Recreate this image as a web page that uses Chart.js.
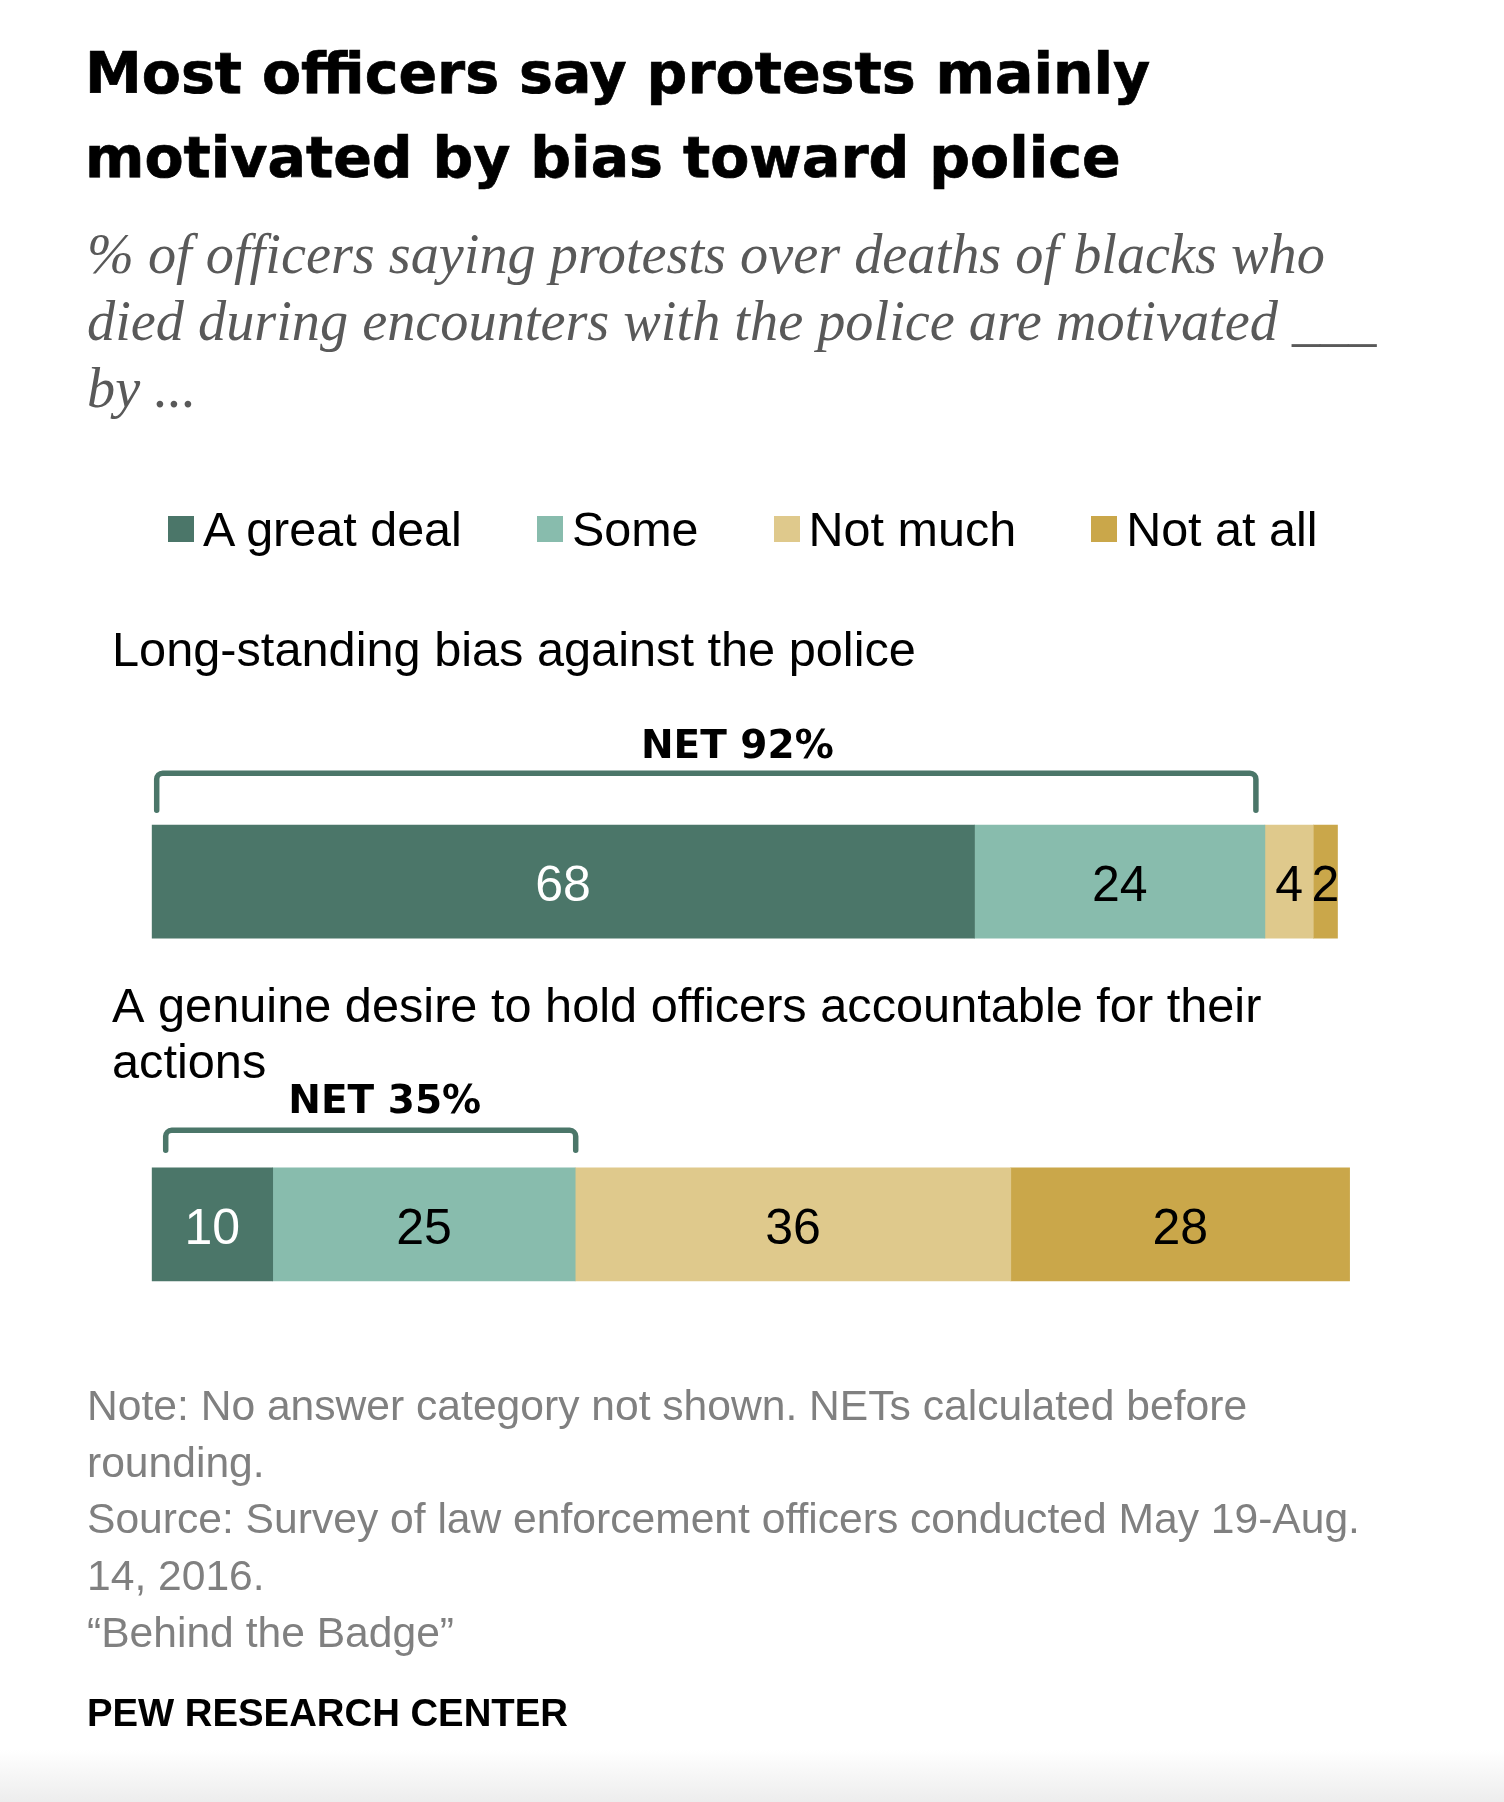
<!DOCTYPE html>
<html>
<head>
<meta charset="utf-8">
<script src="https://cdn.jsdelivr.net/npm/chart.js@4.4.1/dist/chart.umd.min.js"></script>
<style>
  html, body { margin: 0; padding: 0; background: #fff; }
  body { width: 1504px; height: 1802px; position: relative; overflow: hidden; }
  #chart { position: absolute; left: 0; top: 0; z-index: 1; }
  .txt { position: absolute; z-index: 2; white-space: nowrap; }
  #title { left: 85px; top: 31px; font: bold 57px "DejaVu Sans"; line-height: 84px; color: #000; -webkit-text-stroke: 0.7px #000; }
  #subtitle { left: 87px; top: 221px; font: italic 56.3px "Liberation Serif"; line-height: 67px; color: #595959; }
  #legend { left: 168px; top: 505px; display: flex; font: 48.5px "Liberation Sans"; line-height: 48px; color: #000; }
  #legend .item { display: flex; align-items: center; margin-right: 75px; }
  #legend .box { width: 26px; height: 26px; margin-right: 9px; }
  #notes { left: 87px; top: 1377px; font: 42.6px "Liberation Sans"; line-height: 56.7px; color: #808080; }
  #brand { left: 87px; top: 1694px; font: bold 38.3px "Liberation Sans"; line-height: 38px; color: #000; }
  #shade { position: absolute; left: 0; right: 0; top: 1750px; height: 52px; background: linear-gradient(#ffffff, #ededed); z-index: 0; }
</style>
</head>
<body>
<div id="shade"></div>
<canvas id="chart" width="1504" height="1802"></canvas>

<div id="title" class="txt">Most officers say protests mainly<br>motivated by bias toward police</div>
<div id="subtitle" class="txt">% of officers saying protests over deaths of blacks who<br>died during encounters with the police are motivated ___<br>by ...</div>
<div id="legend" class="txt"></div>
<div id="notes" class="txt">Note: No answer category not shown. NETs calculated before<br>rounding.<br>Source: Survey of law enforcement officers conducted May 19-Aug.<br>14, 2016.<br>“Behind the Badge”</div>
<div id="brand" class="txt">PEW RESEARCH CENTER</div>

<script>
// data
const categories = [
  ["Long-standing bias against the police"],
  ["A genuine desire to hold officers accountable for their", "actions"]
];
const seriesNames = ["A great deal", "Some", "Not much", "Not at all"];
const greatDeal = [68, 10];
const some      = [24, 25];
const notMuch   = [4, 36];
const notAtAll  = [2, 28];
const netValues = [92, 35];

// styles
const seriesColors = ["#4b7669", "#88bcad", "#dfc98c", "#caa74a"];
const valueColors  = ["#ffffff", "#000000", "#000000", "#000000"];
const bracketColor = "#4b7669";

// per-row placement of the text and brackets above each bar (px from bar top)
const rowLayout = [
  { label: 159, lineGap: 56.6, net: 67, netShift: 31, line: 52, leg: 15, inL: 5, inR: -9 },
  { label: 146, lineGap: 56.6, net: 55, netShift: 14, line: 37.5, leg: 17.5, inL: 14, inR: 0.5 }
];

// legend built from the series
const legendEl = document.getElementById("legend");
seriesNames.forEach((name, i) => {
  const item = document.createElement("div");
  item.className = "item";
  const box = document.createElement("div");
  box.className = "box";
  box.style.background = seriesColors[i];
  const label = document.createElement("span");
  label.textContent = name;
  item.appendChild(box);
  item.appendChild(label);
  legendEl.appendChild(item);
});

const annotations = {
  id: "annotations",
  afterDatasetsDraw(chart) {
    const ctx = chart.ctx;
    const xs = chart.scales.x;
    ctx.save();

    // values inside segments
    ctx.font = '50px "Liberation Sans"';
    ctx.textAlign = "center";
    ctx.textBaseline = "middle";
    chart.data.datasets.forEach((ds, d) => {
      const meta = chart.getDatasetMeta(d);
      meta.data.forEach((bar, i) => {
        const c = bar.getCenterPoint();
        ctx.fillStyle = valueColors[d];
        ctx.fillText(String(ds.data[i]), c.x, c.y + 6);
      });
    });

    // category labels, brackets and NET labels
    const first = chart.getDatasetMeta(0);
    categories.forEach((lines, i) => {
      const bar = first.data[i];
      const top = bar.y - bar.height / 2;
      const lay = rowLayout[i];

      ctx.fillStyle = "#000";
      ctx.textAlign = "left";
      ctx.textBaseline = "alphabetic";
      ctx.font = '48.7px "Liberation Sans"';
      lines.forEach((t, k) => ctx.fillText(t, 112, top - lay.label + k * lay.lineGap));

      const x0 = xs.getPixelForValue(0) + lay.inL;
      const x1 = xs.getPixelForValue(netValues[i]) + lay.inR;
      const yl = top - lay.line;
      const yb = top - lay.leg;
      const r = 6;
      ctx.strokeStyle = bracketColor;
      ctx.lineWidth = 5.5;
      ctx.lineCap = "round";
      ctx.lineJoin = "round";
      ctx.beginPath();
      ctx.moveTo(x0, yb);
      ctx.lineTo(x0, yl + r);
      ctx.arcTo(x0, yl, x0 + r, yl, r);
      ctx.lineTo(x1 - r, yl);
      ctx.arcTo(x1, yl, x1, yl + r, r);
      ctx.lineTo(x1, yb);
      ctx.stroke();

      ctx.font = 'bold 39px "DejaVu Sans"';
      ctx.textAlign = "center";
      ctx.fillText("NET " + netValues[i] + "%", (x0 + x1) / 2 + lay.netShift, top - lay.net);
    });

    ctx.restore();
  }
};

new Chart(document.getElementById("chart"), {
  type: "bar",
  data: {
    labels: categories,
    datasets: [greatDeal, some, notMuch, notAtAll].map((vals, i) => ({
      label: seriesNames[i],
      data: vals,
      backgroundColor: seriesColors[i],
      borderWidth: 0,
      barThickness: 113
    }))
  },
  options: {
    indexAxis: "y",
    responsive: false,
    animation: false,
    devicePixelRatio: 1,
    layout: { padding: { left: 151.7, right: 142.3, top: 710.3, bottom: 406.3 } },
    scales: {
      x: { stacked: true, min: 0, max: 100, display: false },
      y: { stacked: true, display: false }
    },
    plugins: {
      legend: { display: false },
      tooltip: { enabled: false }
    }
  },
  plugins: [annotations]
});
</script>
</body>
</html>
